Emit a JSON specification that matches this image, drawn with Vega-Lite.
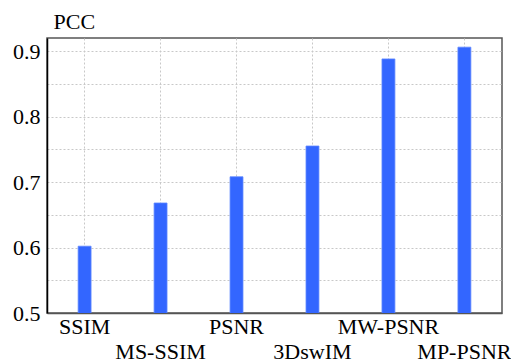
{
  "$schema": "https://vega.github.io/schema/vega-lite/v6.json",
  "width": 455,
  "height": 275,
  "autosize": "none",
  "padding": {"left": 47, "top": 38, "right": 9, "bottom": 50},
  "background": "white",
  "config": {
    "view": {"stroke": "#555", "strokeWidth": 1.5},
    "font": "Liberation Serif"
  },
  "data": {
    "values": [
      {"metric": "SSIM", "pcc": 0.602},
      {"metric": "MS-SSIM", "pcc": 0.668},
      {"metric": "PSNR", "pcc": 0.708},
      {"metric": "3DswIM", "pcc": 0.755},
      {"metric": "MW-PSNR", "pcc": 0.888},
      {"metric": "MP-PSNR", "pcc": 0.906}
    ]
  },
  "mark": {"type": "bar", "color": "#3366ff", "stroke": "#5c85ff", "strokeWidth": 0.8, "clip": true},
  "encoding": {
    "x": {
      "field": "metric",
      "type": "nominal",
      "sort": null,
      "scale": {"paddingInner": 0.83, "paddingOuter": 0.41},
      "axis": {
        "title": null,
        "labelAngle": 0,
        "labelFont": "Liberation Serif",
        "labelFontSize": 22,
        "labelColor": "black",
        "labelPadding": 3,
        "labelLineHeight": 25,
        "labelExpr": "indexof(['MS-SSIM','3DswIM','MP-PSNR'], datum.label) >= 0 ? ['', datum.label] : datum.label",
        "ticks": false,
        "domain": true,
        "domainColor": "#555",
        "domainWidth": 1.5,
        "grid": true,
        "bandPosition": 0.5,
        "gridColor": "#c8c8c8",
        "gridDash": [2, 2],
        "gridWidth": 1
      }
    },
    "y": {
      "field": "pcc",
      "type": "quantitative",
      "scale": {"domain": [0.5, 0.92], "zero": false, "nice": false},
      "axis": {
        "values": [0.5, 0.55, 0.6, 0.65, 0.7, 0.75, 0.8, 0.85, 0.9],
        "labelExpr": "abs(datum.value * 10 - round(datum.value * 10)) < 0.01 ? format(datum.value, '.1f') : ''",
        "labelFont": "Liberation Serif",
        "labelFontSize": 22,
        "labelColor": "black",
        "labelPadding": 7,
        "ticks": false,
        "domainColor": "black",
        "domainWidth": 1.5,
        "gridColor": "#c8c8c8",
        "gridDash": [2, 2],
        "gridWidth": 1,
        "title": "PCC",
        "titleFont": "Liberation Serif",
        "titleFontSize": 22,
        "titleFontWeight": "normal",
        "titleColor": "black",
        "titleAngle": 0,
        "titleAlign": "left",
        "titleBaseline": "alphabetic",
        "titleX": 6,
        "titleY": -10
      }
    }
  }
}
